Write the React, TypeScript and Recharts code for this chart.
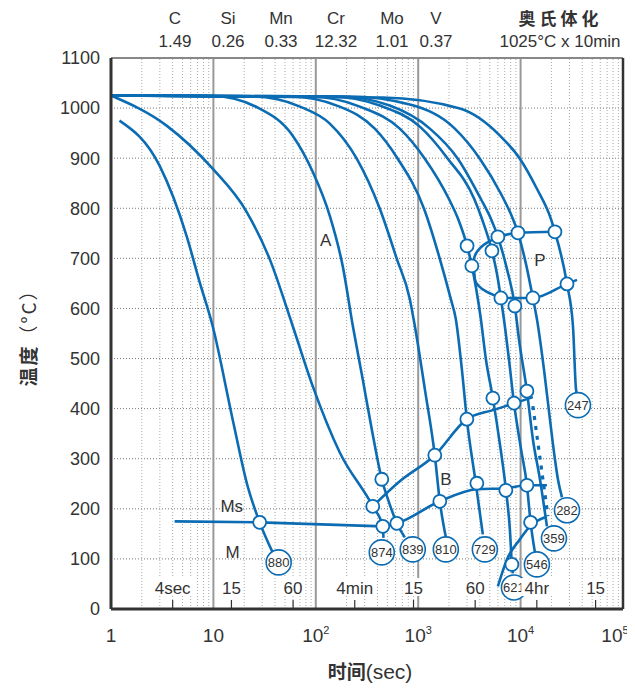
import React from 'react';
import { ComposedChart, Line, Scatter, XAxis, YAxis, CartesianGrid, ReferenceLine } from 'recharts';

const W = 627;
const H = 685;
const BLUE = '#0b6cb3';
const INK = '#333';
const FONT = '"Liberation Sans Narrow", "Liberation Sans", Arial, sans-serif';
const CJK = '"Noto Sans CJK SC", "Noto Sans", sans-serif';

type P = [number, number];

// composition header
const elements = ['C', 'Si', 'Mn', 'Cr', 'Mo', 'V'];
const contents = ['1.49', '0.26', '0.33', '12.32', '1.01', '0.37'];
const elementX = [175, 228, 281, 336, 392, 436];
const austenitize = ['奥', '氏', '体', '化'];

const tempTicks = [0, 100, 200, 300, 400, 500, 600, 700, 800, 900, 1000, 1100];
const decadeTicks = [1, 10, 100, 1000, 10000, 100000];
const minorTimes: number[] = [];
for (const d of [1, 10, 100, 1000, 10000]) for (let k = 2; k <= 9; k++) minorTimes.push(d * k);

// time marks inside the plot
const timeMarks = [4, 15, 60, 240, 900, 3600, 14400, 54000];
const timeNames = ['4sec', '15', '60', '4min', '15', '60', '4hr', '15'];

// cooling curves (t in sec, T in °C)
const curve880: P[] = [[1.21, 975], [2.98, 885], [5.47, 745], [7.33, 653], [9.83, 565], [15.4, 379], [21.6, 245], [28.3, 173], [37.9, 113]];
const curve874: P[] = [[1, 1025], [3.49, 965], [9.83, 879], [21.1, 793], [35.4, 699], [59.5, 565], [93.3, 445], [171, 313], [360, 205], [451, 165], [458, 142]];
const curve839: P[] = [[1, 1025], [9.83, 1024], [28.3, 999], [59.5, 945], [93.3, 873], [137, 785], [183, 685], [230, 565], [287, 459], [352, 359], [441, 259], [527, 209], [618, 171], [740, 143]];
const curve810: P[] = [[1, 1025], [25, 1023], [70, 1003], [137, 969], [251, 899], [422, 799], [618, 699], [828, 619], [927, 565], [1161, 439], [1452, 307], [1626, 215], [1862, 143]];
const curve729: P[] = [[1, 1025], [56, 1023], [171, 1003], [377, 959], [631, 899], [1140, 799], [1626, 699], [2080, 619], [2330, 579], [2668, 479], [2985, 379], [3650, 251], [4276, 149]];
const curve621: P[] = [[1, 1025], [87, 1023], [269, 1003], [661, 959], [1161, 899], [1990, 819], [2450, 779], [3000, 725], [3342, 685], [4090, 579], [4580, 499], [5358, 421], [6281, 329], [7180, 239], [7855, 159], [8222, 89], [8400, 71]];
const curve546: P[] = [[1, 1025], [137, 1023], [422, 1005], [1038, 963], [1946, 899], [3520, 819], [4190, 779], [5248, 715], [5880, 669], [6420, 621], [6870, 579], [7690, 499], [8620, 411], [10100, 319], [11530, 247], [12520, 173], [13800, 113]];
const curve359: P[] = [[1, 1025], [171, 1023], [527, 1005], [1300, 959], [2437, 899], [4080, 819], [5130, 779], [5998, 743], [7350, 679], [8790, 605], [9630, 539], [11530, 435], [13180, 339], [15450, 259], [18080, 165]];
const curve282: P[] = [[1, 1025], [214, 1023], [828, 1007], [2278, 959], [4000, 899], [6420, 829], [8400, 779], [9420, 751], [11280, 689], [13180, 621], [14430, 579], [16900, 479], [19330, 379], [21640, 299], [23140, 259], [25360, 223]];
const curve247: P[] = [[1, 1025], [451, 1021], [2552, 999], [6281, 945], [9840, 899], [14430, 839], [19770, 779], [21640, 753], [28380, 649], [32460, 565], [34750, 439], [35480, 429]];
const coolingCurves = [curve880, curve874, curve839, curve810, curve729, curve621, curve546, curve359, curve282, curve247];

// transformation lines
const msLine: P[] = [[4.18, 175], [28.3, 173], [451, 165]];
const bStart: P[] = [[360, 205], [661, 255], [1452, 307], [2985, 379], [5358, 397], [8790, 411], [13180, 423]];
const bFinish: P[] = [[451, 165], [618, 171], [1626, 215], [3740, 239], [7180, 241], [11530, 247], [18080, 247]];
const bDotted: P[] = [[13180, 405], [18500, 185]];
const lowCurve: P[] = [[5998, 45], [7350, 99], [9840, 139], [12330, 165], [17290, 183]];
const pTop: P[] = [[5998, 743], [9420, 751], [21640, 753]];
const pNose: P[] = [[5998, 743], [4375, 727], [3490, 695], [3573, 659], [4688, 633], [6420, 621]];
const pBottom: P[] = [[6420, 621], [13180, 621], [28380, 649], [35560, 657]];

const markPoints: P[] = [
  [28.3, 173], [360, 205], [451, 165], [441, 259], [618, 171], [1452, 307], [1626, 215], [2985, 379],
  [3740, 251], [5358, 421], [7180, 237], [8620, 411], [11530, 435], [11530, 247], [12520, 173], [8222, 89],
  [3000, 725], [3342, 685], [5248, 715], [5998, 743], [9420, 751], [21640, 753], [28380, 649], [13180, 621],
  [6420, 621], [8790, 605],
];

const hardness = ['880', '874', '839', '810', '729', '621', '546', '359', '282', '247'];
const hardnessPos: P[] = [[43.4, 93], [441, 113], [885, 119], [1862, 119], [4478, 119], [8610, 43], [14430, 89], [21180, 141], [28380, 197], [36310, 407]];

const regionNames = ['A', 'P', 'B', 'Ms', 'M'];
const regionPos: P[] = [[125, 737], [15450, 697], [1862, 259], [15.1, 205], [15.4, 113]];

const rows = (pts: P[]) => pts.map(([t, T]) => ({ t, T }));

const DecadeTick = (props: any) => {
  const { x, y, payload } = props;
  const v = payload.value;
  const exp = Math.round(Math.log10(v));
  return (
    <text x={exp === 5 ? x - 8 : x} y={y} dy={33} textAnchor="middle" fill={INK} fontSize={19} fontFamily={FONT}>
      {exp <= 1 ? String(v) : (
        <>
          10<tspan dy={-8} fontSize={11}>{exp}</tspan>
        </>
      )}
    </text>
  );
};

const MarkDot = (props: any) => (
  <circle cx={props.cx} cy={props.cy} r={6.5} fill="#fff" stroke={BLUE} strokeWidth={1.8} />
);

const HardnessDot = (props: any) => (
  <g>
    <circle cx={props.cx} cy={props.cy} r={12.5} fill="#fff" stroke={BLUE} strokeWidth={1.6} />
    <text x={props.cx} y={props.cy + 4.5} textAnchor="middle" fontSize={13} fontFamily={FONT} fill={INK}>
      {props.payload.label}
    </text>
  </g>
);

const RegionText = (props: any) => (
  <text x={props.cx} y={props.cy + 6} textAnchor="middle" fontSize={17} fontFamily={FONT} fill={INK}>
    {props.payload.label}
  </text>
);

const TimeMark = (props: any) => {
  const label = props.payload.label;
  const w = label.length * 9 + 4;
  return (
    <g>
      <line x1={props.cx} x2={props.cx} y1={props.cy} y2={props.cy - 9} stroke={INK} strokeWidth={1.2} />
      <rect x={props.cx - w / 2} y={props.cy - 31} width={w} height={18} fill="#fff" />
      <text x={props.cx} y={props.cy - 15} textAnchor="middle" fontSize={17} fontFamily={FONT} fill={INK}>
        {label}
      </text>
    </g>
  );
};

export default function App() {
  const hardnessRows = hardnessPos.map(([t, T], i) => ({ t, T, label: hardness[i] }));
  const regionRows = regionPos.map(([t, T], i) => ({ t, T, label: regionNames[i] }));
  const timeRows = timeMarks.map((t, i) => ({ t, T: 0, label: timeNames[i] }));
  const lineProps = { dataKey: 'T', stroke: BLUE, strokeWidth: 2.6, dot: false, activeDot: false, isAnimationActive: false } as const;

  return (
    <div style={{ position: 'relative', width: W, height: H }}>
      <ComposedChart width={W} height={H} margin={{ top: 50, right: 12, bottom: 54, left: 43 }}>
        <CartesianGrid vertical={false} stroke="#777" strokeDasharray="1 2" />
        <CartesianGrid horizontal={false} stroke="#999" strokeWidth={2} />
        <XAxis dataKey="t" type="number" scale="log" domain={[1, 100000]} ticks={decadeTicks} allowDataOverflow
          interval={0} tick={<DecadeTick />} tickLine={false} tickSize={0} tickMargin={0} height={30}
          axisLine={{ stroke: INK, strokeWidth: 3 }} />
        <YAxis type="number" domain={[0, 1100]} ticks={tempTicks} interval={0} width={60} tickSize={0} tickMargin={11}
          tickLine={false} axisLine={{ stroke: INK, strokeWidth: 3 }} allowDataOverflow
          tick={{ fill: INK, fontSize: 18, fontFamily: FONT }} />
        {minorTimes.map((m) => (
          <ReferenceLine key={'m' + m} x={m} stroke="#aaa" strokeWidth={1} strokeDasharray="1 2" />
        ))}
        <ReferenceLine y={1100} stroke="#888" strokeWidth={2} />
        <ReferenceLine x={100000} stroke={INK} strokeWidth={2.5} />

        {coolingCurves.map((c, i) => (
          <Line key={'c' + i} data={rows(c)} type="monotone" {...lineProps} />
        ))}
        <Line data={rows(msLine)} type="linear" {...lineProps} />
        <Line data={rows(bStart)} type="monotone" {...lineProps} />
        <Line data={rows(bFinish)} type="monotone" {...lineProps} />
        <Line data={rows(lowCurve)} type="monotone" {...lineProps} />
        <Line data={rows(bDotted)} type="linear" {...lineProps} strokeWidth={3.2} strokeDasharray="4 6" />
        <Line data={rows(pTop)} type="monotone" {...lineProps} />
        <Line data={rows(pNose)} type="monotoneY" {...lineProps} />
        <Line data={rows(pBottom)} type="monotone" {...lineProps} />

        <Scatter data={rows(markPoints)} dataKey="T" shape={<MarkDot />} isAnimationActive={false} />
        <Scatter data={hardnessRows} dataKey="T" shape={<HardnessDot />} isAnimationActive={false} />
        <Scatter data={regionRows} dataKey="T" shape={<RegionText />} isAnimationActive={false} />
        <Scatter data={timeRows} dataKey="T" shape={<TimeMark />} isAnimationActive={false} />
      </ComposedChart>

      {/* header and axis titles, in page coordinates */}
      <svg width={W + 8} height={H + 8} style={{ position: 'absolute', left: -8, top: -8, pointerEvents: 'none' }}>
        {elements.map((e, i) => (
          <text key={e} x={elementX[i]} y={24} textAnchor="middle" fontSize={17} fontFamily={FONT} fill={INK}>{e}</text>
        ))}
        {contents.map((c, i) => (
          <text key={'v' + i} x={elementX[i]} y={47} textAnchor="middle" fontSize={17} fontFamily={FONT} fill={INK}>{c}</text>
        ))}
        {austenitize.map((ch, i) => (
          <text key={ch} x={527 + i * 21} y={25} textAnchor="middle" fontSize={17} fontWeight="bold" fontFamily={CJK} fill={INK}>{ch}</text>
        ))}
        <text x={560} y={47} textAnchor="middle" fontSize={17} fontFamily={FONT} fill={INK}>1025°C x 10min</text>
        <text transform="translate(36,333) rotate(-90)" textAnchor="middle" fontSize={19} letterSpacing={2} fontFamily={CJK} fill={INK}>
          <tspan fontWeight="bold">温度</tspan><tspan>（°C）</tspan>
        </text>
        <text x={370} y={679} textAnchor="middle" fontSize={19} fontFamily={CJK} fill={INK}>
          <tspan fontWeight="bold">时间</tspan><tspan fontFamily={FONT} fontSize={21}>(sec)</tspan>
        </text>
      </svg>
    </div>
  );
}
